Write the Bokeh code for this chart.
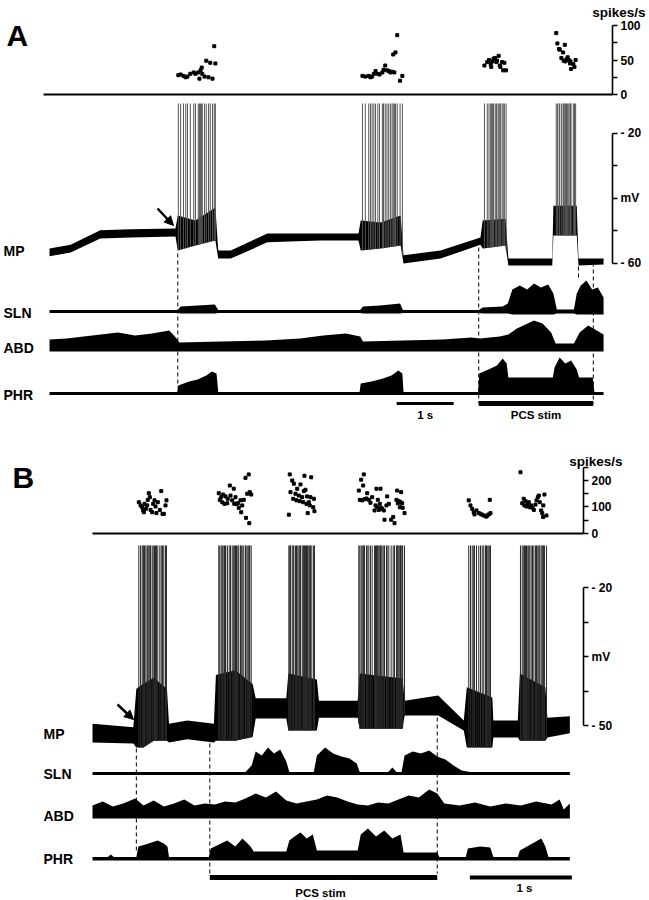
import numpy as np
from bokeh.plotting import figure
from bokeh.models import Range1d, LinearAxis, FixedTicker, Label, Arrow, NormalHead
from bokeh.layouts import column
from bokeh.embed import file_html
from bokeh.resources import INLINE

FONT = "Liberation Sans"

# ======================= DATA : panel A =======================
# instantaneous firing rate (spikes/s) at each spike time (s)
rate_a_t = [2.26, 2.30, 2.35, 2.39, 2.42, 2.47, 2.53, 2.56, 2.61, 2.63, 2.65, 2.67, 2.68, 2.72, 2.75, 2.79, 2.82, 2.86, 2.89, 2.91,
            5.49, 5.54, 5.60, 5.63, 5.66, 5.69, 5.72, 5.76, 5.79, 5.84, 5.86, 5.89, 5.92, 5.95, 5.98, 6.01, 6.03, 6.05, 6.07, 6.10, 6.15, 6.19,
            7.63, 7.68, 7.71, 7.74, 7.75, 7.77, 7.79, 7.82, 7.84, 7.85, 7.88, 7.90, 7.91, 7.94, 7.96, 7.98, 8.01,
            8.89, 8.91, 8.94, 8.95, 8.98, 9.01, 9.02, 9.04, 9.05, 9.07, 9.09, 9.11, 9.13, 9.14, 9.15, 9.19, 9.21, 9.23]
rate_a_v = [28, 29, 27, 25, 26, 30, 32, 30, 32, 23, 35, 39, 30, 26, 49, 25, 46, 23, 70, 45,
            27, 26, 27, 25, 26, 30, 34, 30, 29, 32, 36, 42, 35, 34, 32, 33, 58, 32, 61, 86, 20, 27,
            42, 47, 50, 44, 40, 48, 52, 53, 47, 49, 56, 42, 40, 47, 35, 46, 35,
            89, 74, 66, 65, 53, 61, 49, 72, 48, 51, 54, 50, 45, 48, 37, 44, 40, 50]

# membrane potential envelope (mV)
mp_a_t = [0.0, 0.37, 0.89, 1.42, 2.21, 2.25, 2.56, 2.91, 2.96, 3.18, 3.82, 4.75, 5.42, 5.46, 5.81, 6.16, 6.21, 6.86,
          7.56, 7.60, 8.00, 8.05, 8.82, 8.84, 9.25, 9.28, 9.72]
mp_a_hi = [-55.4, -54.2, -49.8, -49.5, -49.2, -45.2, -46.8, -42.8, -56.0, -56.0, -50.8, -50.8, -50.8, -46.8, -47.4, -45.2,
           -57.5, -56.0, -52.0, -46.8, -46.2, -58.5, -58.5, -42.2, -42.2, -58.5, -58.5]
mp_a_lo = [-57.8, -56.6, -52.3, -52.0, -51.7, -56.0, -54.5, -52.9, -58.5, -58.5, -53.5, -52.9, -52.9, -56.0, -55.4, -54.5,
           -60.0, -58.5, -54.2, -55.4, -54.5, -60.6, -60.6, -51.4, -51.4, -60.6, -60.3]

# nerve activity envelopes (arbitrary units above baseline)
sln_a_t = [0.0, 2.25, 2.30, 2.60, 2.90, 2.96, 5.45, 5.50, 5.80, 6.15, 6.20, 7.53, 7.60, 7.95, 8.04, 8.12, 8.25, 8.38, 8.50, 8.62,
           8.75, 8.84, 8.90, 9.20, 9.25, 9.32, 9.42, 9.52, 9.62, 9.72]
sln_a_hi = [1.5, 1.5, 5, 6, 7, 1.5, 1.5, 5, 6, 8, 1.5, 1.5, 4, 5, 8, 22, 26, 22, 28, 24, 27, 18, 2, 2, 18, 26, 31, 22, 24, 14]
sln_a_lo = [-1.5, -1.5, -2, -2, -2, -1.5, -1.5, -2, -2, -2, -1.5, -1.5, -2, -2, -2, -3, -3, -3, -3, -3, -3, -3, -2, -2,
            -3, -3, -3, -3, -3, -3]

abd_a_t = [0.0, 0.3, 0.6, 0.9, 1.2, 1.5, 1.8, 2.1, 2.2, 2.28, 3.0, 3.8, 4.4, 4.8, 5.2, 5.45, 5.5, 6.2, 6.9, 7.4, 7.55, 7.9,
           8.05, 8.2, 8.35, 8.5, 8.65, 8.8, 8.88, 9.2, 9.3, 9.45, 9.6, 9.72]
abd_a_hi = [9, 10, 12, 14, 16, 13, 15, 18, 12, 6, 7, 8, 10, 13, 15, 12, 7, 8, 9, 11, 10, 12, 14, 20, 24, 28, 25, 16, 5, 5,
            16, 23, 18, 14]
abd_a_lo = -3

phr_a_t = [0.0, 2.24, 2.26, 2.45, 2.6, 2.75, 2.85, 2.93, 2.96, 5.44, 5.46, 5.65, 5.85, 6.0, 6.12, 6.19, 6.21, 7.52, 7.54, 7.7,
           7.85, 7.95, 8.02, 8.05, 8.5, 8.83, 8.86, 8.95, 9.05, 9.15, 9.25, 9.29, 9.53, 9.56, 9.72]
phr_a_hi = [1.5, 1.5, 8, 12, 14, 18, 22, 20, 1.5, 1.5, 10, 12, 15, 18, 23, 20, 1.5, 1.5, 20, 24, 28, 35, 30, 16, 16, 16, 26,
            36, 30, 33, 24, 16, 16, 1.5, 1.5]
phr_a_lo = -1.5

burst_on_a = [2.25]
pcs_a = [7.53, 9.54]          # PCS stimulation on / off (s)
stim_short_a = [9.28]

# ======================= DATA : panel B =======================
rate_b_t = [0.454, 0.471, 0.487, 0.497, 0.503, 0.510, 0.523, 0.536, 0.542, 0.552, 0.562, 0.569, 0.585, 0.595, 0.608, 0.618,
            0.627, 0.640, 0.660, 0.674, 0.686, 0.699, 0.716, 0.725,
            1.238, 1.248, 1.262, 1.272, 1.281, 1.294, 1.304, 1.321, 1.326, 1.346, 1.353, 1.370, 1.385, 1.390, 1.402, 1.412,
            1.425, 1.434, 1.451, 1.458, 1.468, 1.483, 1.500, 1.505, 1.517, 1.532, 1.537, 1.542, 1.556,
            1.925, 1.934, 1.941, 1.958, 1.968, 1.974, 1.990, 2.000, 2.007, 2.023, 2.032, 2.039, 2.056, 2.066, 2.072, 2.078,
            2.088, 2.098, 2.105, 2.110, 2.121, 2.130, 2.137, 2.144, 2.164, 2.170, 2.176,
            2.611, 2.621, 2.634, 2.644, 2.654, 2.660, 2.667, 2.686, 2.693, 2.709, 2.725, 2.742, 2.765, 2.775, 2.784, 2.791,
            2.797, 2.807, 2.817, 2.824, 2.830, 2.840, 2.856, 2.863, 2.882, 2.889, 2.905, 2.928, 2.948, 2.961, 2.980, 2.987,
            2.993, 3.003, 3.013, 3.020, 3.026, 3.036, 3.041, 3.059,
            3.689, 3.706, 3.723, 3.738, 3.745, 3.765, 3.787, 3.804, 3.821, 3.836, 3.853, 3.863, 3.870, 3.885, 3.895, 3.902,
            4.196, 4.213, 4.228, 4.235, 4.245, 4.255, 4.268, 4.277, 4.287, 4.301, 4.314, 4.327, 4.343, 4.353, 4.366, 4.376,
            4.385, 4.399, 4.409, 4.418, 4.420, 4.431, 4.451]
rate_b_v = [118, 106, 99, 87, 80, 112, 93, 106, 127, 152, 137, 89, 80, 112, 125, 102, 77, 118, 89, 160, 74, 74, 106, 125,
            152, 127, 137, 118, 147, 112, 140, 114, 131, 181, 143, 125, 169, 112, 137, 112, 114, 97, 125, 80, 106, 127,
            210, 59, 150, 223, 39, 156, 147,
            71, 223, 156, 200, 131, 188, 150, 125, 169, 143, 122, 185, 137, 118, 160, 218, 165, 112, 140, 77, 118, 106,
            137, 212, 99, 131, 84,
            162, 127, 203, 125, 181, 223, 129, 132, 152, 127, 116, 137, 87, 106, 169, 99, 127, 89, 112, 169, 97, 93, 87,
            52, 106, 140, 112, 52, 62, 39, 127, 162, 114, 122, 99, 118, 156, 114, 97, 77,
            125, 106, 93, 80, 72, 87, 77, 74, 71, 68, 65, 64, 68, 72, 127, 77,
            231, 114, 131, 106, 122, 102, 112, 118, 99, 106, 97, 89, 109, 125, 137, 143, 118, 87, 77, 62, 106, 147, 68]

mp_b_t = [0.00, 0.40, 0.43, 0.50, 0.60, 0.73, 0.75, 0.93, 1.19, 1.21, 1.40, 1.57, 1.60, 1.90, 1.92, 2.20, 2.22, 2.60, 2.62,
          3.04, 3.06, 3.39, 3.64, 3.67, 3.92, 3.93, 4.17, 4.19, 4.44, 4.46, 4.68]
mp_b_hi = [-49.6, -50.4, -42.0, -40.9, -39.6, -42.0, -49.6, -48.9, -49.6, -39.0, -38.0, -41.0, -44.1, -44.1, -38.7, -40.0,
           -44.6, -44.6, -38.7, -39.8, -44.6, -43.5, -48.9, -41.7, -43.9, -48.9, -48.9, -38.7, -41.7, -48.3, -48.0]
mp_b_lo = [-53.7, -53.9, -54.8, -54.8, -53.3, -53.3, -53.7, -53.0, -53.7, -53.3, -53.3, -52.5, -48.5, -48.5, -51.1, -51.1,
           -48.3, -48.3, -50.7, -50.7, -47.8, -47.8, -51.1, -54.8, -54.8, -52.6, -52.6, -53.3, -53.3, -52.6, -51.7]

sln_b_t = [0.0, 1.50, 1.56, 1.60, 1.66, 1.72, 1.78, 1.84, 1.90, 1.93, 2.17, 2.20, 2.28, 2.36, 2.44, 2.52, 2.59, 2.62, 2.90,
           2.94, 2.98, 3.03, 3.06, 3.14, 3.22, 3.30, 3.38, 3.46, 3.54, 3.62, 3.70, 4.68]
sln_b_hi = [1.5, 1.5, 8, 22, 18, 26, 20, 24, 12, 1.5, 1.5, 18, 26, 20, 17, 15, 10, 1.5, 1.5, 6, 1.5, 1.5, 18, 22, 20, 23,
            17, 14, 8, 3, 1.5, 1.5]
sln_b_lo = -1.5

abd_b_t = [0.0, 0.1, 0.2, 0.3, 0.42, 0.5, 0.6, 0.7, 0.8, 0.9, 1.0, 1.1, 1.2, 1.3, 1.4, 1.5, 1.6, 1.7, 1.8, 1.9, 2.0, 2.1,
           2.2, 2.3, 2.4, 2.5, 2.6, 2.7, 2.8, 2.9, 3.0, 3.1, 3.2, 3.3, 3.38, 3.45, 3.6, 3.75, 3.9, 4.05, 4.2, 4.35, 4.5,
           4.58, 4.62, 4.68]
abd_b_hi = [10, 14, 9, 12, 17, 10, 15, 9, 12, 16, 10, 12, 11, 14, 13, 17, 22, 18, 24, 15, 12, 14, 16, 20, 18, 14, 11, 10,
            13, 12, 16, 20, 18, 26, 22, 12, 10, 13, 9, 12, 10, 14, 11, 16, 6, 12]
abd_b_lo = -3

phr_b_t = [0.0, 0.15, 0.18, 0.21, 0.43, 0.45, 0.52, 0.58, 0.64, 0.70, 0.735, 0.75, 1.14, 1.16, 1.24, 1.32, 1.40, 1.47,
           1.55, 1.58, 1.90, 1.93, 1.98, 2.04, 2.10, 2.16, 2.20, 2.60, 2.63, 2.70, 2.78, 2.86, 2.94, 3.02, 3.05, 3.38,
           3.40, 3.66, 3.68, 3.80, 3.90, 3.93, 4.17, 4.19, 4.26, 4.33, 4.40, 4.44, 4.47, 4.68]
phr_b_hi = [1.5, 1.5, 4, 1.5, 1.5, 12, 14, 16, 18, 15, 12, 1.5, 1.5, 10, 14, 18, 12, 20, 12, 7, 7, 18, 22, 26, 20, 24, 8,
            8, 24, 30, 22, 28, 20, 24, 6, 6, 1.5, 1.5, 10, 12, 11, 1.5, 1.5, 8, 12, 16, 20, 12, 1.5, 1.5]
phr_b_lo = -2

burst_on_b = [0.43]
pcs_b = [1.15, 3.38]

# ======================= helpers =======================
def base_fig(w, h, xr, yr):
    p = figure(width=w, height=h, x_range=xr, y_range=yr, output_backend="svg", toolbar_location=None,
               x_axis_location=None, y_axis_location=None, min_border=0,
               outline_line_color=None, background_fill_color="white", border_fill_color="white")
    p.grid.grid_line_color = None
    return p


def style_axis(ax):
    ax.axis_line_width = 1.6
    ax.axis_line_color = "black"
    ax.major_tick_line_width = 1.6
    ax.major_tick_out = 5
    ax.major_tick_in = 0
    ax.minor_tick_out = 0
    ax.minor_tick_in = 0
    ax.major_label_standoff = 3
    ax.major_label_text_font = FONT
    ax.major_label_text_font_style = "bold"
    ax.major_label_text_font_size = "12px"
    ax.major_label_text_color = "black"
    return ax


def txt(p, x, y, s, size, align="left", xu="data", yu="data", base="middle"):
    p.add_layout(Label(x=x, y=y, x_units=xu, y_units=yu, text=s, text_font=FONT, text_font_style="bold",
                       text_font_size=size, text_align=align, text_baseline=base, text_color="black"))


def nerve(p, t, lo, hi, base):
    t = np.asarray(t, float)
    hi = np.asarray(hi, float)
    lo = np.asarray(lo, float) * np.ones_like(t)
    p.varea(x=t, y1=base - lo, y2=base - hi, fill_color="black")


def membrane(p, t, lo, hi, spikes, col):
    p.varea(x=t, y1=lo, y2=hi, fill_color="black", y_range_name="mv")
    trough = np.interp(spikes, t, lo)
    p.segment(x0=spikes, x1=spikes, y0=trough, y1=0, line_color=col, line_width=1,
              y_range_name="mv")


W = 649
# ======================= PANEL A =======================
# figure split at 103 px; lower figure uses page-pixel y coordinates for layout items
xa = Range1d(-0.860, 10.526)
AX_A = 9.877
a_top = base_fig(W, 103, xa, Range1d(-13.0, 136.2))
ax = style_axis(LinearAxis(bounds=(0, 100), ticker=FixedTicker(ticks=[0, 25, 50, 75, 100]),
                           major_label_overrides={25: "", 75: ""}, fixed_location=AX_A))
a_top.add_layout(ax, "right")
a_top.segment(x0=[-0.105], x1=[AX_A], y0=[0], y1=[0], line_color="black", line_width=2)
a_top.scatter(rate_a_t, rate_a_v, marker="square", size=3, color="black")
txt(a_top, 6, 68, "A", "30px", xu="screen", yu="screen", base="alphabetic")
txt(a_top, 645, 91, "spikes/s", "13.5px", align="right", xu="screen", yu="screen")

a_bot = base_fig(W, 322, xa, Range1d(425, 103))
a_bot.extra_y_ranges = {"mv": Range1d(-109.85, -10.77)}
mv_ax = style_axis(LinearAxis(y_range_name="mv", bounds=(-60, -20), fixed_location=AX_A,
                              ticker=FixedTicker(ticks=[-60, -50, -40, -30, -20]),
                              major_label_overrides={-20: "- 20", -30: "", -40: "mV", -50: "", -60: "- 60"}))
a_bot.add_layout(mv_ax, "right")
membrane(a_bot, mp_a_t, mp_a_lo, mp_a_hi, rate_a_t, "#555555")
nerve(a_bot, sln_a_t, sln_a_lo, sln_a_hi, 311)
nerve(a_bot, abd_a_t, abd_a_lo, abd_a_hi, 348)
nerve(a_bot, phr_a_t, phr_a_lo, phr_a_hi, 393)
a_bot.segment(x0=burst_on_a, x1=burst_on_a, y0=[253], y1=[387], line_dash="4 3", line_color="black", line_width=1)
a_bot.segment(x0=pcs_a, x1=pcs_a, y0=[247, 262], y1=[403, 403], line_dash="4 3", line_color="black", line_width=1)
a_bot.segment(x0=stim_short_a, x1=stim_short_a, y0=[266], y1=[280], line_dash="4 3", line_color="black", line_width=1)
# scale bars
a_bot.segment(x0=[6.09], x1=[7.09], y0=[403], y1=[403], line_color="black", line_width=3)
a_bot.segment(x0=[pcs_a[0]], x1=[pcs_a[1]], y0=[403], y1=[403], line_color="black", line_width=5)
txt(a_bot, 6.59, 414, "1 s", "11.5px", align="center")
txt(a_bot, (pcs_a[0] + pcs_a[1]) / 2, 414, "PCS stim", "11.5px", align="center")
for name, yy in [("MP", 250), ("SLN", 312), ("ABD", 347), ("PHR", 394)]:
    txt(a_bot, 3, yy, name, "14px", xu="screen")
a_bot.add_layout(Arrow(end=NormalHead(size=9, fill_color="black", line_color="black"),
                       x_start=1.895, y_start=208, x_end=2.175, y_end=225, line_width=2.5, line_color="black"))

# ======================= PANEL B =======================
xb = Range1d(-0.902, 5.461)
AX_B = 4.814
b_top = base_fig(W, 120, xb, Range1d(-45.3, 407.5))
bx = style_axis(LinearAxis(bounds=(0, 250), ticker=FixedTicker(ticks=[0, 50, 100, 150, 200, 250]),
                           major_label_overrides={50: "", 150: "", 250: ""}, fixed_location=AX_B))
b_top.add_layout(bx, "right")
b_top.segment(x0=[0.0], x1=[AX_B], y0=[0], y1=[0], line_color="black", line_width=2)
b_top.scatter(rate_b_t, rate_b_v, marker="square", size=3, color="black")
txt(b_top, 12, 68, "B", "30px", xu="screen", yu="screen", base="alphabetic")
txt(b_top, 622, 84, "spikes/s", "13.5px", align="right", xu="screen", yu="screen")

b_bot = base_fig(W, 355, xb, Range1d(900, 545))
b_bot.extra_y_ranges = {"mv": Range1d(-88.04, -10.87)}
mvb = style_axis(LinearAxis(y_range_name="mv", bounds=(-50, -20), fixed_location=AX_B,
                            ticker=FixedTicker(ticks=[-50, -42.5, -35, -27.5, -20]),
                            major_label_overrides={-20: "- 20", -27.5: "", -35: "mV", -42.5: "", -50: "- 50"}))
b_bot.add_layout(mvb, "right")
membrane(b_bot, mp_b_t, mp_b_lo, mp_b_hi, rate_b_t, "#2a2a2a")
nerve(b_bot, sln_b_t, sln_b_lo, sln_b_hi, 773)
nerve(b_bot, abd_b_t, abd_b_lo, abd_b_hi, 815)
nerve(b_bot, phr_b_t, phr_b_lo, phr_b_hi, 858)
b_bot.segment(x0=burst_on_b, x1=burst_on_b, y0=[748], y1=[850], line_dash="4 3", line_color="black", line_width=1)
b_bot.segment(x0=pcs_b, x1=pcs_b, y0=[743, 717], y1=[873, 873], line_dash="4 3", line_color="black", line_width=1)
b_bot.segment(x0=[3.70], x1=[4.70], y0=[877], y1=[877], line_color="black", line_width=4)
b_bot.segment(x0=[pcs_b[0]], x1=[pcs_b[1]], y0=[877], y1=[877], line_color="black", line_width=5)
txt(b_bot, 4.235, 887, "1 s", "11.5px", align="center")
txt(b_bot, 2.235, 892, "PCS stim", "11.5px", align="center")
for name, yy in [("MP", 733), ("SLN", 773), ("ABD", 815), ("PHR", 858)]:
    txt(b_bot, 43, yy, name, "14px", xu="screen")
b_bot.add_layout(Arrow(end=NormalHead(size=9, fill_color="black", line_color="black"),
                       x_start=0.245, y_start=704, x_end=0.402, y_end=719, line_width=2.5, line_color="black"))

layout = column(a_top, a_bot, b_top, b_bot, spacing=0)
open("out.html", "w").write(file_html(layout, INLINE))
